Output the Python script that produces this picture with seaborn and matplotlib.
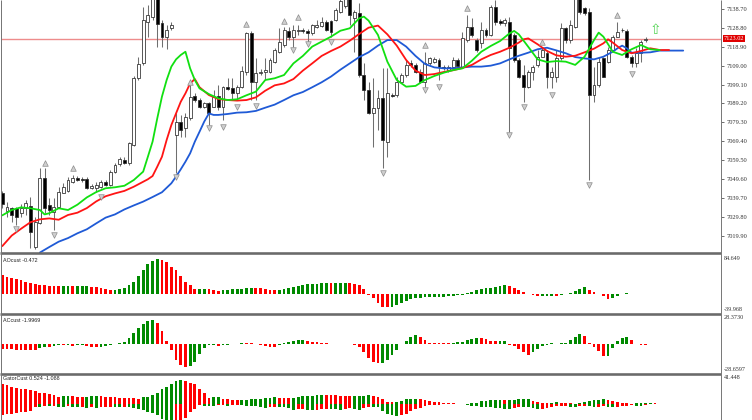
import numpy as np
import matplotlib
matplotlib.use("Agg")
import matplotlib.pyplot as plt
from matplotlib.lines import Line2D
import seaborn as sns

sns.set_theme(style="white")
plt.rcParams['font.family'] = ['DejaVu Sans']

# ---------------- price data (bars 0..137) ----------------
opens = [7042.5,7033.1,7034.3,7034.3,7031.7,7034.3,7035.7,7014.2,7026.4,7050.0,
         7036.0,7032.5,7035.1,7042.5,7043.5,7048.2,7050.0,7049.6,7049.6,7045.1,
         7044.8,7045.6,7048.2,7046.5,7053.5,7057.3,7059.6,7057.8,7067.4,7102.4,
         7110.2,7132.1,7134.7,7146.0,7131.2,7124.2,7128.6,7072.7,7079.7,7076.2,
         7081.4,7093.1,7091.0,7087.5,7089.3,7087.5,7093.1,7087.5,7097.7,7097.1,
         7094.5,7098.0,7105.9,7125.9,7100.6,7105.0,7105.9,7105.9,7111.1,7116.3,
         7119.8,7127.3,7124.2,7127.3,7127.7,7127.3,7125.9,7129.4,7129.8,7132.1,
         7132.6,7132.9,7137.3,7140.0,7146.0,7133.8,7136.4,7104.1,7096.3,7084.0,
         7086.7,7091.9,7069.2,7093.7,7093.6,7100.6,7104.1,7110.2,7109.4,7105.9,
         7100.6,7110.2,7111.1,7112.0,7108.5,7106.7,7108.5,7112.0,7108.5,7122.4,
         7129.4,7122.4,7120.7,7127.7,7125.1,7139.9,7132.6,7131.2,7132.0,7125.1,
         7112.0,7104.1,7097.7,7105.9,7109.4,7113.7,7115.5,7103.2,7103.2,7112.8,
         7128.6,7122.4,7129.4,7146.0,7139.0,7137.3,7093.6,7098.9,7112.8,7111.1,
         7117.2,7124.2,7127.5,7127.3,7113.7,7110.2,7115.5,7122.4]
highs = [7043.5,7037.8,7035.1,7035.1,7036.5,7038.6,7040.4,7029.9,7055.2,7055.2,
         7039.5,7039.5,7045.6,7047.4,7050.9,7051.7,7051.0,7050.5,7050.5,7046.8,
         7048.2,7049.1,7049.1,7054.4,7058.0,7061.0,7061.2,7069.2,7103.5,7113.7,
         7139.9,7140.8,7150.0,7150.0,7132.9,7130.3,7132.1,7084.0,7083.2,7084.0,
         7098.9,7094.5,7091.9,7090.1,7090.1,7096.3,7098.9,7098.4,7102.4,7102.4,
         7098.9,7109.0,7126.8,7127.0,7112.8,7107.0,7112.8,7113.0,7118.0,7128.6,
         7129.5,7129.4,7130.3,7130.3,7128.5,7128.0,7131.0,7132.9,7134.7,7132.9,
         7132.9,7139.0,7146.0,7149.0,7149.0,7138.2,7141.7,7110.2,7100.6,7102.4,
         7096.3,7107.6,7107.6,7094.5,7103.2,7105.0,7112.0,7112.0,7110.5,7107.0,
         7116.0,7113.7,7113.7,7112.8,7109.4,7109.4,7113.7,7112.8,7126.8,7135.5,
         7133.8,7123.3,7132.1,7128.6,7140.8,7143.4,7133.5,7134.0,7134.7,7126.0,
         7112.8,7109.4,7106.7,7109.4,7117.2,7118.9,7117.2,7108.5,7117.2,7131.2,
         7129.4,7132.9,7148.0,7150.0,7139.9,7139.0,7108.5,7113.7,7113.7,7118.9,
         7125.0,7132.1,7128.6,7128.0,7114.6,7118.1,7122.4,7124.0]
lows = [7034.3,7029.9,7027.3,7025.5,7029.9,7030.8,7013.3,7012.8,7026.0,7031.7,
        7030.8,7022.9,7034.3,7042.1,7043.0,7047.7,7048.5,7048.2,7044.2,7044.3,
        7043.0,7044.8,7046.0,7046.0,7052.6,7056.5,7057.3,7057.0,7067.0,7101.5,
        7109.4,7124.2,7133.0,7118.9,7118.9,7117.6,7127.7,7052.6,7071.8,7071.8,
        7080.5,7090.1,7086.7,7086.7,7077.9,7087.2,7085.8,7080.5,7096.3,7091.0,
        7091.0,7097.1,7104.1,7091.0,7091.0,7104.0,7101.5,7105.0,7110.5,7115.5,
        7119.0,7122.4,7118.9,7125.1,7126.0,7121.6,7125.0,7128.6,7129.4,7127.3,
        7124.2,7132.6,7136.5,7139.0,7130.3,7116.3,7103.0,7091.0,7083.7,7066.6,
        7075.3,7055.2,7061.3,7092.5,7092.8,7100.0,7103.2,7108.5,7105.0,7099.7,
        7098.0,7109.4,7110.5,7101.5,7106.7,7105.9,7107.6,7107.6,7108.0,7121.6,
        7124.2,7116.3,7118.1,7124.2,7124.6,7130.3,7130.5,7130.0,7074.4,7111.0,
        7102.4,7090.1,7097.1,7101.5,7108.5,7113.4,7097.1,7097.1,7100.6,7112.0,
        7120.7,7120.7,7128.6,7136.0,7135.5,7049.1,7090.1,7098.0,7102.9,7110.5,
        7116.5,7123.8,7126.8,7113.0,7108.5,7108.5,7111.1,7121.6]
closes = [7036.5,7035.1,7030.8,7029.9,7034.3,7036.9,7022.1,7027.3,7050.0,7034.3,
          7033.4,7035.1,7043.0,7045.6,7049.1,7050.0,7049.1,7048.9,7044.8,7046.0,
          7046.5,7048.2,7046.5,7053.5,7057.0,7060.0,7058.2,7068.3,7102.4,7109.9,
          7132.9,7135.5,7146.0,7130.8,7124.2,7127.7,7130.3,7079.7,7075.3,7082.3,
          7092.8,7091.0,7087.5,7089.3,7084.0,7092.8,7087.5,7097.7,7096.6,7094.9,
          7098.0,7106.0,7125.9,7100.6,7105.0,7105.9,7106.7,7112.0,7117.2,7121.6,
          7127.7,7124.2,7127.7,7127.7,7127.0,7126.3,7130.3,7130.3,7132.1,7127.7,
          7126.8,7138.2,7143.0,7146.0,7135.5,7137.3,7104.1,7096.3,7084.0,7086.7,
          7091.9,7070.1,7094.9,7093.2,7100.6,7104.1,7109.4,7109.4,7105.9,7100.6,
          7110.2,7112.8,7112.3,7108.5,7107.6,7108.5,7112.0,7108.8,7123.3,7129.4,
          7125.1,7117.2,7127.7,7125.1,7139.9,7132.1,7131.5,7132.9,7118.5,7112.0,
          7103.2,7097.7,7105.9,7108.5,7113.7,7117.2,7103.2,7105.9,7112.8,7128.6,
          7122.4,7130.3,7145.0,7137.3,7136.4,7093.6,7098.9,7111.1,7103.2,7117.2,
          7124.2,7126.8,7127.7,7113.7,7110.2,7115.5,7121.6,7123.0]

last_price = 7123.02
price_ticks = [7138.70,7128.80,7118.90,7109.00,7099.10,7089.20,7079.30,
               7069.40,7059.50,7049.60,7039.70,7029.80,7019.90]

# ---------------- alligator lines ----------------
jaw_x = [8,10,12,14,16,18,20,22,24,26,28,30,32,34,36,37,38,39,40,41,42,43,44,45,46,48,50,52,
         54,56,58,60,62,64,66,68,70,72,74,76,78,80,82,84,86,88,90,92,94,96,98,100,
         102,104,106,108,110,112,114,116,118,120,122,124,126,128,130,131,132,133,134,
         136,138,140,142,145]
jaw_y = [7011.1,7014.0,7016.8,7018.7,7021.2,7023.3,7026.4,7029.4,7031.1,7033.7,7035.8,
         7037.8,7040.2,7042.7,7047.4,7050.9,7054.7,7058.7,7063.1,7069.2,7074.4,7079.7,
         7084.0,7083.2,7083.2,7083.7,7084.4,7084.6,7085.3,7087.0,7088.6,7091.0,7093.5,
         7095.2,7097.7,7100.3,7103.3,7106.9,7110.2,7113.5,7116.0,7119.5,7122.4,7122.4,
         7119.0,7114.1,7109.9,7108.1,7107.6,7107.6,7108.1,7108.5,7108.5,7109.0,7110.2,
         7112.3,7114.2,7115.8,7117.6,7118.4,7117.0,7115.5,7113.5,7112.8,7112.3,7113.7,
         7116.3,7118.1,7119.5,7118.1,7115.8,7115.8,7116.0,7116.9,7116.9,7116.9]
teeth_x = [0,2,4,6,8,10,12,14,16,18,20,22,24,26,28,30,31,32,33,34,35,36,37,38,39,40,41,
           42,44,46,48,50,52,54,56,58,60,62,64,66,68,70,72,74,76,78,80,82,84,86,88,90,
           92,94,96,98,100,102,104,106,108,110,111,112,114,116,118,120,122,124,126,128,
           129,130,132,134,136,138,140,142]
teeth_y = [7014.5,7020.0,7023.6,7027.0,7028.5,7029.0,7028.3,7030.8,7032.0,7034.4,7037.9,
           7040.6,7042.1,7043.4,7045.6,7048.2,7049.5,7051.2,7056.1,7061.3,7070.1,7077.9,
           7084.0,7090.1,7094.5,7099.7,7102.0,7097.7,7093.6,7091.5,7091.0,7090.7,7091.0,
           7092.4,7095.9,7098.7,7099.7,7102.0,7106.4,7110.2,7114.1,7116.7,7119.0,7122.1,
           7125.6,7128.9,7130.0,7125.4,7119.5,7112.0,7106.4,7104.1,7104.6,7105.7,7106.6,
           7107.8,7109.4,7112.3,7114.6,7116.3,7118.4,7121.1,7122.8,7123.3,7120.2,7116.7,
           7114.4,7113.7,7114.2,7116.0,7117.9,7120.7,7122.8,7121.1,7117.2,7115.5,7116.7,
           7118.1,7117.2,7117.2]
lips_x = [0,2,4,6,8,9,10,12,14,16,18,20,22,24,26,28,30,31,32,33,34,35,36,37,38,39,40,41,
          42,44,46,48,50,52,54,56,58,60,62,64,66,68,70,72,74,76,77,78,80,82,84,86,88,90,
          92,94,96,98,100,102,104,106,108,109,110,112,114,116,118,120,122,124,126,127,
          128,130,132,134,136,138,140]
lips_y = [7030.6,7033.4,7034.8,7034.3,7033.4,7031.1,7031.7,7034.3,7033.4,7036.2,7040.0,
          7042.8,7044.8,7045.3,7046.1,7049.1,7053.5,7061.3,7069.2,7081.4,7092.8,7101.5,
          7108.5,7112.3,7114.6,7116.3,7107.6,7101.5,7097.1,7094.1,7091.9,7091.0,7091.4,
          7093.5,7095.4,7101.5,7102.4,7104.1,7110.2,7114.1,7119.0,7121.6,7124.2,7127.3,
          7128.6,7133.8,7134.7,7132.6,7125.1,7111.1,7101.5,7098.0,7098.4,7101.5,7103.6,
          7105.3,7106.7,7107.6,7111.6,7116.3,7119.3,7121.9,7125.9,7127.2,7125.4,7118.9,
          7112.3,7110.9,7111.4,7111.1,7109.4,7113.7,7122.4,7126.3,7124.2,7116.3,7114.6,
          7117.6,7119.8,7117.6,7117.2]

# ---------------- fractals ----------------
frac_up_x = [9,15,40,52,60,63,90,99,115,131]
frac_up_y = [7058.0,7055.4,7100.5,7130.8,7132.4,7134.5,7119.8,7139.2,7121.4,7135.5]
frac_dn_x = [3,11,21,37,44,47,50,54,62,65,70,81,90,93,108,111,117,125,134]
frac_dn_y = [7023.4,7020.3,7040.2,7050.5,7076.4,7076.9,7087.4,7087.9,7117.2,7120.4,
             7121.4,7052.8,7096.0,7097.8,7072.5,7087.4,7093.6,7046.5,7104.6]
signal_x = [139]
signal_y = [7127.7]

# ---------------- indicators ----------------
ao = [43.0,39.3,36.4,34.1,31.2,28.2,24.5,22.3,20.8,20.0,
      19.5,18.6,17.8,18.4,18.8,17.8,18.4,18.9,19.0,17.1,
      15.6,13.4,11.1,9.6,9.8,11.1,13.4,20.8,28.2,40.8,
      54.2,67.5,74.9,77.9,76.4,71.2,61.6,54.2,40.8,28.2,
      20.8,11.1,11.5,11.9,11.1,9.6,8.2,9.6,9.8,11.1,
      12.0,12.8,13.4,14.8,14.6,14.3,12.6,10.4,8.9,10.4,
      12.6,14.8,17.1,19.3,20.8,22.3,23.0,23.7,24.5,24.6,
      24.3,24.6,24.8,24.9,24.5,23.7,21.5,11.1,-0.5,-8.9,
      -18.6,-27.5,-28.9,-28.2,-24.5,-20.0,-14.1,-11.1,-8.9,-8.2,
      -6.7,-6.5,-5.9,-5.8,-5.2,-4.5,-3.7,-2.2,-0.7,2.2,
      5.9,8.9,11.5,13.4,14.8,15.6,18.6,20.0,18.6,14.8,
      10.4,5.2,1.5,-2.2,-3.7,-3.0,-2.9,-2.8,-3.2,-1.5,
      -0.2,3.0,8.2,12.6,15.6,10.4,5.9,0.7,-3.7,-9.6,
      -7.4,-3.0,-0.3,2.2,1.5,0.7,0.6,0.2]
ac = [-4.6,-4.8,-5.0,-5.2,-5.4,-5.5,-5.6,-5.7,-3.3,-2.6,
      -2.7,-1.3,-0.7,-1.0,-0.8,-1.3,-1.0,-0.8,-2.0,-2.6,
      -3.0,-2.6,-2.0,-0.7,0.5,1.3,3.0,6.6,11.3,16.6,
      21.2,23.8,24.8,22.2,13.9,4.0,-6.0,-15.2,-20.9,-22.5,
      -21.8,-17.5,-9.3,-3.3,-1.0,-0.7,-1.3,-0.7,-0.3,0.7,
      0.5,2.0,1.6,1.3,0.7,-0.3,-1.3,-2.6,-2.7,-0.3,
      1.3,3.0,4.0,4.6,5.0,3.3,2.6,2.5,2.0,1.3,
      0.7,0.3,0.4,0.3,0.2,-0.3,-2.6,-7.6,-13.2,-17.9,
      -18.5,-18.2,-15.9,-10.9,-5.3,0.3,4.0,7.3,9.9,7.9,
      4.6,2.0,1.8,1.7,1.6,1.5,2.0,2.3,3.0,4.3,
      5.6,6.6,6.3,5.3,4.0,3.3,3.6,4.0,-0.3,-1.7,
      -4.6,-7.9,-10.3,-7.6,-5.0,-2.0,-0.2,1.0,0.9,1.2,
      2.0,4.6,7.9,10.6,8.6,2.0,-2.6,-6.6,-11.3,-11.2,
      -3.3,3.3,6.3,7.3,4.6,0.3,-0.7,-0.8]
gator_up = [29.0,27.5,25.6,24.2,22.7,21.7,20.8,18.8,16.9,15.9,
            14.5,13.0,11.1,12.1,12.2,11.6,11.0,10.6,11.1,11.3,
            12.1,11.6,11.1,10.6,10.1,9.7,9.4,9.2,9.1,8.2,
            10.1,11.1,13.0,16.9,21.7,25.6,29.0,33.8,35.3,34.8,
            31.4,29.0,22.7,16.0,9.7,9.8,9.9,8.2,7.2,6.3,
            5.8,6.0,6.6,6.9,7.1,8.0,8.9,9.6,10.1,9.4,
            8.7,8.5,8.6,10.0,11.2,11.9,12.5,13.2,13.8,13.6,
            13.4,12.7,12.1,12.0,11.9,12.0,12.1,12.6,12.9,11.9,
            10.5,7.0,3.0,2.5,2.9,5.0,7.0,7.5,7.7,6.8,
            5.8,4.6,3.5,2.7,1.9,1.4,1.0,0.6,0.3,0.5,
            0.9,2.3,3.8,4.7,5.6,5.9,6.1,6.0,6.1,6.5,
            6.9,7.3,7.5,5.0,2.6,2.0,1.7,2.2,2.6,2.2,
            1.8,1.2,0.7,2.0,3.2,4.4,5.6,6.4,7.0,6.2,
            5.1,3.6,2.3,1.5,0.8,0.85,0.9,1.5,2.1,1.2,
            0.3,0.3,0.3]
gator_dn = [-15.9,-15.0,-14.0,-13.0,-12.1,-11.1,-10.1,-4.3,-4.8,-3.4,
            -3.6,-2.4,-4.8,-4.9,-3.4,-4.8,-4.9,-3.9,-6.3,-3.9,
            -6.3,-4.8,-4.7,-4.3,-4.4,-4.5,-3.9,-4.8,-6.3,-7.2,
            -8.7,-11.1,-13.0,-16.9,-21.7,-26.0,-30.0,-28.0,-24.0,-20.0,
            -12.1,-7.2,-2.0,-2.4,-2.6,-2.8,-1.4,-1.0,-2.4,-1.4,
            -1.0,-2.0,-2.3,-2.7,-3.0,-4.3,-5.6,-4.6,-3.7,-4.0,
            -4.4,-6.3,-8.2,-7.9,-7.7,-8.2,-8.8,-8.1,-7.5,-7.4,
            -7.5,-7.9,-8.3,-7.4,-6.5,-7.3,-8.2,-5.9,-3.7,-4.2,
            -4.9,-9.6,-14.3,-16.2,-18.0,-16.0,-14.0,-11.0,-8.0,-5.3,
            -2.6,-1.8,-1.0,-0.7,-0.4,-0.3,-0.1,-0.15,-0.2,-1.2,
            -2.2,-3.1,-4.0,-4.4,-4.7,-5.2,-5.6,-6.6,-7.5,-5.9,
            -4.3,-4.35,-4.4,-6.2,-7.9,-6.8,-5.8,-4.4,-3.0,-2.8,
            -2.6,-3.7,-4.8,-3.5,-2.3,-3.4,-4.5,-4.0,-3.5,-4.1,
            -4.8,-3.7,-2.6,-2.3,-2.1,-2.6,-3.1,-1.8,-0.5,-0.3,
            -0.1,-0.1,-0.1]

# ---------------- layout ----------------
W, H = 752, 420
fig = plt.figure(figsize=(W / 100, H / 100), dpi=100)
fig.patch.set_facecolor('white')

def pax(x0, y0, x1, y1):
    return fig.add_axes([x0 / W, 1 - y1 / H, (x1 - x0) / W, (y1 - y0) / H])

XL = (-0.277, 153.05)
ax_m = pax(1, 0, 721, 253)
ax_ao = pax(1, 254, 721, 313)
ax_ac = pax(1, 314, 721, 373)
ax_gt = pax(1, 374, 721, 420)

for a in (ax_m, ax_ao, ax_ac, ax_gt):
    a.set_facecolor('white')
    for s in a.spines.values():
        s.set_visible(False)

# ---------------- main chart ----------------
n = len(closes)
xs = np.arange(n)
O = np.array(opens); Hh = np.array(highs); Ll = np.array(lows); C = np.array(closes)
up = C >= O
ax_m.vlines(xs, Ll, Hh, color='#6f6f6f', lw=0.75, zorder=2)
body_lo = np.minimum(O, C)
body_h = np.maximum(np.abs(C - O), 0.35)
ax_m.bar(xs, body_h, bottom=body_lo, width=0.62,
         color=['white' if u else 'black' for u in up],
         edgecolor='#2a2a2a', linewidth=0.55, zorder=3)

ax_m.axhline(last_price, color='#ee8c8c', lw=1.0, zorder=1)

sns.lineplot(x=jaw_x, y=jaw_y, ax=ax_m, color='#1f5ad6', linewidth=1.3,
             estimator=None, sort=False, zorder=4)
sns.lineplot(x=teeth_x, y=teeth_y, ax=ax_m, color='#ff1414', linewidth=1.3,
             estimator=None, sort=False, zorder=4)
sns.lineplot(x=lips_x, y=lips_y, ax=ax_m, color='#11e011', linewidth=1.3,
             estimator=None, sort=False, zorder=4)

sns.scatterplot(x=frac_up_x, y=frac_up_y, ax=ax_m, marker='^', s=16,
                color='#cfcfcf', edgecolor='#8c8c8c', linewidth=0.5, zorder=5)
sns.scatterplot(x=frac_dn_x, y=frac_dn_y, ax=ax_m, marker='v', s=16,
                color='#cfcfcf', edgecolor='#8c8c8c', linewidth=0.5, zorder=5)
for sx, sy in zip(signal_x, signal_y):
    ax_m.text(sx, sy, '\u21e7', ha='center', va='center', fontsize=10,
              color='#55d455', zorder=6)

ax_m.set_xlim(*XL)
ax_m.set_ylim(7143.4 - 253 * 0.5238, 7143.4)
ax_m.set_xticks([])
ax_m.yaxis.tick_right()
ax_m.set_yticks(price_ticks)
ax_m.set_yticklabels([f'{t:.2f}' for t in price_ticks])
ax_m.tick_params(axis='y', which='both', right=True, length=2.5, width=0.6,
                 color='#555555', pad=1.2, labelsize=4.6, labelcolor='#333333')
for lbl in ax_m.get_yticklabels():
    lbl.set_family('Liberation Serif')
ax_m.set_xlabel(''); ax_m.set_ylabel('')

ax_m.text(1.0035, last_price, f'{last_price:.2f}', transform=ax_m.get_yaxis_transform(),
          ha='left', va='center', fontsize=4.6, family='Liberation Serif', color='white',
          bbox=dict(boxstyle='square,pad=0.15', fc='#e00000', ec='none'), zorder=10,
          clip_on=False)

# ---------------- histograms ----------------
def hist(ax, values, magnitude):
    idx = list(range(len(values)))
    cols = ['dn'] + ['up' if magnitude[i] > magnitude[i - 1] else 'dn'
                     for i in range(1, len(values))]
    sns.barplot(x=idx, y=values, hue=cols, hue_order=['up', 'dn'],
                palette={'up': '#008a00', 'dn': '#ff0000'}, native_scale=True,
                dodge=False, width=0.6, errorbar=None, legend=False,
                saturation=1, linewidth=0, ax=ax)

hist(ax_ao, ao, ao)
hist(ax_ac, ac, ac)
hist(ax_gt, gator_up, gator_up)
hist(ax_gt, gator_dn, [abs(v) for v in gator_dn])

ax_ao.set_ylim(-41.6, 89.7)
ax_ac.set_ylim(-28.8, 30.8)
ax_gt.set_ylim(-23.6, 44.5)
for a in (ax_ao, ax_ac, ax_gt):
    a.set_xlim(*XL)
    a.set_xticks([]); a.set_yticks([])
    a.set_xlabel(''); a.set_ylabel('')

# ---------------- frame lines ----------------
def fline(xa, ya, xb, yb, lw_px, color):
    fig.add_artist(Line2D([xa / W, xb / W], [1 - ya / H, 1 - yb / H],
                          transform=fig.transFigure, lw=lw_px * 0.72, color=color,
                          solid_capstyle='butt'))

for ysep in (253.5, 313.5, 373.5):
    fline(0, ysep, 721, ysep, 2.6, '#6a6a6a')
fline(721, 0, 721, 420, 1.0, '#7a7a7a')
fline(0.5, 0, 0.5, 420, 1.0, '#777777')

# ---------------- panel texts ----------------
lab = dict(fontsize=3.9, family='Liberation Sans', color='#222222', va='center', ha='left')
fig.text(3 / W, 1 - 260 / H, 'AOcust -0.472', **lab)
fig.text(3 / W, 1 - 320 / H, 'ACcust -1.9969', **lab)
fig.text(3 / W, 1 - 378.5 / H, 'GatorCust 0.524 -1.088', **lab)

rl = dict(fontsize=4.4, family='Liberation Serif', color='#333333', va='center', ha='left')
fig.text(723.5 / W, 1 - 258.3 / H, '84.649', **rl)
fig.text(723.5 / W, 1 - 309.5 / H, '-39.968', **rl)
fig.text(723.5 / W, 1 - 317.8 / H, '28.3730', **rl)
fig.text(723.5 / W, 1 - 369.8 / H, '-28.6597', **rl)
fig.text(723.5 / W, 1 - 377.5 / H, '41.448', **rl)

fig.savefig('out.png', dpi=100, facecolor='white')
